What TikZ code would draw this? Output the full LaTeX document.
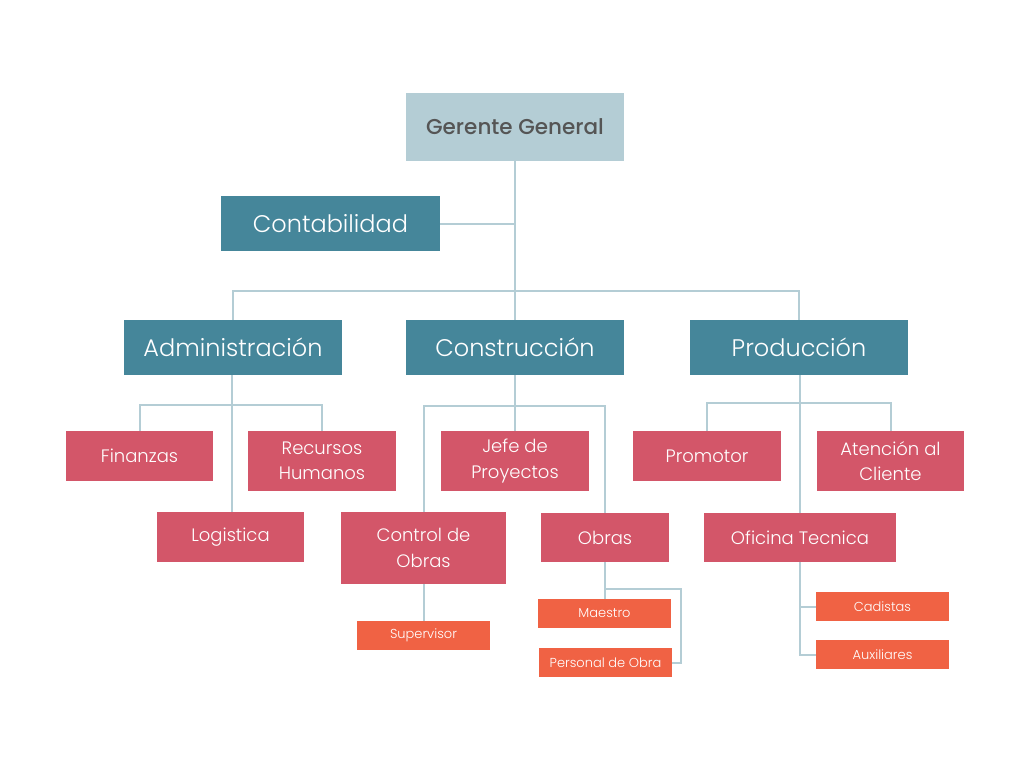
\documentclass[tikz,border=0pt]{standalone}
\usepackage{fontspec}
\setmainfont{Poppins}
\IfFontExistsTF{Poppins Medium}{\newfontfamily\medfont{Poppins Medium}}{\newfontfamily\medfont{Poppins}}
\IfFontExistsTF{Poppins Light}{\newfontfamily\lightfont{Poppins Light}}{\newfontfamily\lightfont{Poppins}}
\definecolor{cTop}{HTML}{B4CDD5}
\definecolor{cTeal}{HTML}{45869A}
\definecolor{cRed}{HTML}{D35669}
\definecolor{cOrange}{HTML}{F06244}
\definecolor{cLine}{HTML}{B4CDD5}
\definecolor{cDark}{HTML}{555555}
\tikzset{
  base/.style={rectangle, inner sep=0pt, align=center, text=white, font=\lightfont},
  topbox/.style={base, fill=cTop, text=cDark, font=\medfont\fontsize{21.5}{25}\selectfont},
  lvone/.style={base, fill=cTeal, font=\lightfont\fontsize{24}{28}\selectfont},
  lvtwo/.style={base, fill=cRed, font=\lightfont\fontsize{18}{25.5}\selectfont},
  lvthree/.style={base, fill=cOrange, font=\lightfont\fontsize{13}{15}\selectfont},
  conn/.style={draw=cLine, line width=2pt},
}
\begin{document}
\begin{tikzpicture}[x=1pt,y=-1pt]
\path[use as bounding box, fill=white] (0,0) rectangle (1024,768);
% top
\node[topbox, minimum width=218pt, minimum height=68pt] (gg) at (515,127) {Gerente General};
\node[lvone, minimum width=219pt, minimum height=55pt] (cont) at (330.5,223.5) {Contabilidad};
\node[lvone, minimum width=218pt, minimum height=55pt] (adm) at (233,347.5) {Administración};
\node[lvone, minimum width=218pt, minimum height=55pt] (cons) at (515,347.5) {Construcción};
\node[lvone, minimum width=218pt, minimum height=55pt] (prod) at (799,347.5) {Producción};
% level two
\node[lvtwo, minimum width=147pt, minimum height=50pt] (fin) at (139.5,456) {Finanzas};
\node[lvtwo, minimum width=148pt, minimum height=60pt] (rh) at (322,461) {Recursos\\Humanos};
\node[lvtwo, minimum width=147pt, minimum height=50pt] (log) at (230.5,537) {Logistica};
\node[lvtwo, minimum width=148pt, minimum height=60pt] (jefe) at (515,461) {Jefe de\\Proyectos};
\node[lvtwo, minimum width=165pt, minimum height=72pt] (ctrl) at (423.5,548) {Control de\\Obras};
\node[lvtwo, minimum width=128pt, minimum height=49pt] (obras) at (605,537.5) {Obras};
\node[lvtwo, minimum width=148pt, minimum height=50pt] (prom) at (707,456) {Promotor};
\node[lvtwo, minimum width=147pt, minimum height=60pt] (aten) at (890.5,461) {Atención al\\Cliente};
\node[lvtwo, minimum width=192pt, minimum height=49pt] (ofi) at (800,537.5) {Oficina Tecnica};
% level three
\node[lvthree, minimum width=133pt, minimum height=29pt] (sup) at (423.5,635.5) {Supervisor};
\node[lvthree, minimum width=133pt, minimum height=29pt] (mae) at (604.5,613.5) {Maestro};
\node[lvthree, minimum width=133pt, minimum height=29pt] (per) at (605.5,662.5) {Personal de Obra};
\node[lvthree, minimum width=133pt, minimum height=29pt] (cad) at (882.5,606.5) {Cadistas};
\node[lvthree, minimum width=133pt, minimum height=29pt] (aux) at (882.5,654.5) {Auxiliares};
% bus coordinates
\coordinate (b1) at (515,291);
\coordinate (b2) at (232,405);
\coordinate (b3) at (515,406);
\coordinate (b4) at (605,589);
\coordinate (b4r) at (681,589);
\coordinate (b5) at (800,403);
% connectors
\draw[conn] (gg.south) -- (cons.north);
\draw[conn] (cont.east) -- (cont.east -| gg.south);
\draw[conn] (adm.north) |- (b1) -| (prod.north);
\draw[conn] (adm.south -| b2) -- (b2 |- log.north);
\draw[conn] (fin.north) |- (b2) -| (rh.north);
\draw[conn] (cons.south) -- (jefe.north);
\draw[conn] (ctrl.north) |- (b3) -| (obras.north);
\draw[conn] (ctrl.south) -- (sup.north);
\draw[conn] (obras.south) -- (obras.south |- mae.north);
\draw[conn] (b4) -- (b4r) |- (per.east);
\draw[conn] (prod.south -| b5) -- (ofi.north -| b5);
\draw[conn] (prom.north) |- (b5) -| (aten.north);
\draw[conn] (ofi.south) |- (cad.west);
\draw[conn] (ofi.south) |- (aux.west);
\end{tikzpicture}
\end{document}
